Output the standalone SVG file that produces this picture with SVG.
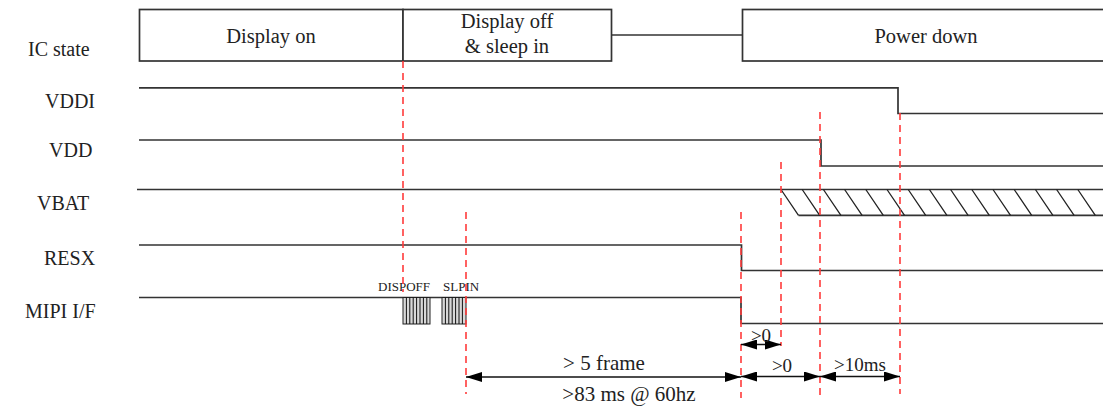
<svg xmlns="http://www.w3.org/2000/svg" width="1103" height="406" viewBox="0 0 1103 406">
<style>
text{font-family:"Liberation Serif","Times New Roman",serif;fill:#222}
.lbl{font-size:20px}
.st{font-size:20.5px;text-anchor:middle}
.sm{font-size:13px}
.ann{font-size:19px;text-anchor:middle}
.big{font-size:21px}
.box{fill:#fff;stroke:#333;stroke-width:1.7}
.sig{fill:none;stroke:#333;stroke-width:1.7}
.hat{fill:none;stroke:#222;stroke-width:1.3}
.red{stroke:#ff3b3b;stroke-width:1.6;stroke-dasharray:7 5;fill:none}
.arr{stroke:#111;stroke-width:1.3;fill:none;marker-start:url(#ah);marker-end:url(#ah)}
.pkt{fill:#d8d8d8;stroke:#222;stroke-width:1}
.pl{stroke:#111;stroke-width:1}
</style>
<defs>
<marker id="ah" viewBox="0 0 16 10" refX="16" refY="5" markerWidth="16" markerHeight="10" markerUnits="userSpaceOnUse" orient="auto-start-reverse">
<path d="M0,0 L16,5 L0,10 Z" fill="#000"/>
</marker>
</defs>
<rect width="1103" height="406" fill="#fff"/>

<g id="state-row">
<text class="lbl" x="28" y="56">IC state</text>
<g id="state-display-on">
<rect class="box" x="139.5" y="9.5" width="263.5" height="51.5"/>
<text class="st" x="271" y="43">Display on</text>
</g>
<g id="state-display-off">
<rect class="box" x="403" y="9.5" width="208.5" height="51.5"/>
<text class="st" x="507" y="28">Display off</text>
<text class="st" x="507" y="53">&amp; sleep in</text>
</g>
<line class="sig" x1="611.5" y1="35" x2="742.5" y2="35"/>
<g id="state-power-down">
<rect class="box" x="742.5" y="9.5" width="380" height="51.5"/>
<text class="st" x="926" y="43">Power down</text>
</g>
</g>

<g id="sig-vddi">
<text class="lbl" x="45" y="108">VDDI</text>
<polyline class="sig" points="139,87.8 898,87.8 898,113.5 1103,113.5"/>
</g>
<g id="sig-vdd">
<text class="lbl" x="49" y="157">VDD</text>
<polyline class="sig" points="139,140 821,140 821,166 1103,166"/>
</g>
<g id="sig-vbat">
<text class="lbl" x="37" y="210">VBAT</text>
<polyline class="sig" points="137,189.5 1103,189.5"/>
<line class="sig" x1="798.5" y1="215.3" x2="1103" y2="215.3"/>
<path class="hat" d="M781,189.5 l17.5,25.8 M802.2,189.5 l17.5,25.8 M823.4,189.5 l17.5,25.8 M844.6,189.5 l17.5,25.8 M865.8,189.5 l17.5,25.8 M887,189.5 l17.5,25.8 M908.2,189.5 l17.5,25.8 M929.4,189.5 l17.5,25.8 M950.6,189.5 l17.5,25.8 M971.8,189.5 l17.5,25.8 M993,189.5 l17.5,25.8 M1014.2,189.5 l17.5,25.8 M1035.4,189.5 l17.5,25.8 M1056.6,189.5 l17.5,25.8 M1077.8,189.5 l17.5,25.8"/>
</g>
<g id="sig-resx">
<text class="lbl" x="44" y="265">RESX</text>
<polyline class="sig" points="139,245 741.5,245 741.5,270.5 1103,270.5"/>
</g>
<g id="sig-mipi">
<text class="lbl" x="25" y="318">MIPI I/F</text>
<polyline class="sig" points="139,297.5 741,297.5 741,323.5 1103,323.5"/>
<g id="pkt-dispoff">
<rect class="pkt" x="403" y="297.5" width="27" height="26.5"/>
<path class="pl" d="M406.4,297.5v26.5M409.8,297.5v26.5M413.2,297.5v26.5M416.6,297.5v26.5M420,297.5v26.5M423.4,297.5v26.5M426.8,297.5v26.5"/>
<text class="sm" x="378" y="291">DISPOFF</text>
</g>
<g id="pkt-slpin">
<rect class="pkt" x="442" y="297.5" width="24" height="26.5"/>
<path class="pl" d="M445.4,297.5v26.5M448.8,297.5v26.5M452.2,297.5v26.5M455.6,297.5v26.5M459,297.5v26.5M462.4,297.5v26.5"/>
<text class="sm" x="443" y="291">SLPIN</text>
</g>
</g>

<g id="markers">
<line class="red" x1="403" y1="61" x2="403" y2="292"/>
<line class="red" x1="466" y1="212" x2="466" y2="394"/>
<line class="red" x1="741" y1="212" x2="741" y2="398"/>
<line class="red" x1="781" y1="162" x2="781" y2="346"/>
<line class="red" x1="820" y1="112" x2="820" y2="396"/>
<line class="red" x1="900" y1="113" x2="900" y2="394"/>
</g>

<g id="connectors">
<line class="arr" x1="466" y1="377" x2="741" y2="377"/>
<line class="arr" x1="741" y1="344.5" x2="781" y2="344.5"/>
<line class="arr" x1="741" y1="376.5" x2="820" y2="376.5"/>
<line class="arr" x1="820" y1="376.5" x2="900" y2="376.5"/>
</g>

<g id="labels">
<text class="ann big" x="604" y="370">&gt; 5 frame</text>
<text class="ann big" x="629" y="401">&gt;83 ms @ 60hz</text>
<text class="ann" x="761" y="342">&gt;0</text>
<text class="ann" x="782" y="372">&gt;0</text>
<text class="ann" x="860" y="371">&gt;10ms</text>
</g>
</svg>
